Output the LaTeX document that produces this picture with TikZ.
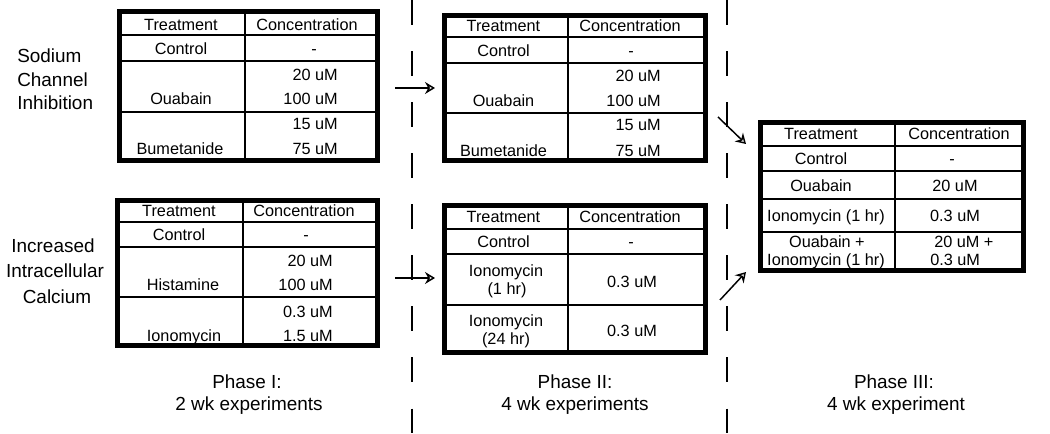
\documentclass[tikz,border=0pt]{standalone}
\usepackage{fontspec}
\setmainfont{Liberation Sans}
\usetikzlibrary{arrows.meta}

\tikzset{
  tblframe/.style={line width=3.6pt},
  rowline/.style={line width=1.5pt},
  colline/.style={line width=2.2pt},
  cell/.style={font=\fontsize{12.2}{13.5}\selectfont, inner sep=0pt, anchor=base},
  val/.style={cell, anchor=base east},
  side/.style={font=\fontsize{14.2}{17}\selectfont, inner sep=0pt, anchor=base},
  phaseline/.style={line width=1.4pt, dash pattern=on 18.5pt off 19.8pt},
  step arrow/.style={line width=1.1pt, -{Stealth[open, length=7.5pt, width=9pt, inset=2.5pt]}}
}

\begin{document}
\begin{tikzpicture}[x=0.75pt, y=-0.75pt]
      \useasboundingbox (0,0) rectangle (1050,434);

      % phase separators
      \foreach \x in {412,727}
      \draw[phaseline] (\x,0) -- (\x,434);

      % row labels
      \node[side, anchor=base west] (sod1) at (17,63) {Sodium};
      \node[side, anchor=base west] (sod2) at (17,87) {Channel};
      \node[side, anchor=base west] (sod3) at (17,110) {Inhibition};
      \node[side] (cal1) at (53,253) {Increased};
      \node[side] (cal2) at (55,278) {Intracellular};
      \node[side] (cal3) at (57,304) {Calcium};

      % phase I, sodium
      \foreach \y in {35,61,112}
      \draw[rowline] (119.5,\y) -- (377.5,\y);
      \draw[colline] (245,11.5) -- (245,160.5);
      \draw[tblframe] (119.5,11.5) rectangle (377.5,160.5);
      \node[cell] (atrt) at (181,31) {Treatment};
      \node[cell] (aconc) at (307,31) {Concentration};
      \node[cell] (actl) at (181,55) {Control};
      \node[cell] (actlv) at (314,55) {-};
      \node[cell] (aoua) at (181,105) {Ouabain};
      \node[val] (aouaA) at (338,81) {20 uM};
      \node[val] (aouaB) at (338,105) {100 uM};
      \node[cell] (abum) at (180,155) {Bumetanide};
      \node[val] (abumA) at (338,130) {15 uM};
      \node[val] (abumB) at (338,155) {75 uM};

      % phase I, calcium
      \foreach \y in {222,247,297}
      \draw[rowline] (117.5,\y) -- (377.5,\y);
      \draw[colline] (243,200.5) -- (243,345.5);
      \draw[tblframe] (117.5,200.5) rectangle (377.5,345.5);
      \node[cell] (btrt) at (179,217) {Treatment};
      \node[cell] (bconc) at (304,217) {Concentration};
      \node[cell] (bctl) at (179,241) {Control};
      \node[cell] (bctlv) at (306,241) {-};
      \node[cell] (bhis) at (183,291) {Histamine};
      \node[val] (bhisA) at (333,267) {20 uM};
      \node[val] (bhisB) at (333,291) {100 uM};
      \node[cell] (bion) at (184,342) {Ionomycin};
      \node[val] (bionA) at (333,318) {0.3 uM};
      \node[val] (bionB) at (333,342) {1.5 uM};

      % phase II, sodium
      \foreach \y in {37,63,113}
      \draw[rowline] (444.5,\y) -- (705.5,\y);
      \draw[colline] (568,15.5) -- (568,160.5);
      \draw[tblframe] (444.5,15.5) rectangle (705.5,160.5);
      \node[cell] (ctrt) at (503.5,32) {Treatment};
      \node[cell] (cconc) at (630,32) {Concentration};
      \node[cell] (cctl) at (503.5,57) {Control};
      \node[cell] (cctlv) at (631,57) {-};
      \node[cell] (coua) at (503.5,107) {Ouabain};
      \node[val] (couaA) at (661,82) {20 uM};
      \node[val] (couaB) at (661,107) {100 uM};
      \node[cell] (cbum) at (503.5,157) {Bumetanide};
      \node[val] (cbumA) at (661,131) {15 uM};
      \node[val] (cbumB) at (661,157) {75 uM};

      % phase II, calcium
      \foreach \y in {229,254,305}
      \draw[rowline] (444.5,\y) -- (705.5,\y);
      \draw[colline] (568,205.5) -- (568,352.5);
      \draw[tblframe] (444.5,205.5) rectangle (705.5,352.5);
      \node[cell] (dtrt) at (503.5,223) {Treatment};
      \node[cell] (dconc) at (630,223) {Concentration};
      \node[cell] (dctl) at (503.5,248) {Control};
      \node[cell] (dctlv) at (631,248) {-};
      \node[cell] (dionA) at (506,277) {Ionomycin};
      \node[cell] (dionAt) at (507,295) {(1 hr)};
      \node[cell] (dionAv) at (632,288) {0.3 uM};
      \node[cell] (dionB) at (506,327) {Ionomycin};
      \node[cell] (dionBt) at (506,345) {(24 hr)};
      \node[cell] (dionBv) at (632,337) {0.3 uM};

      % phase III
      \foreach \y in {146,171,199,232}
      \draw[rowline] (760.5,\y) -- (1023.5,\y);
      \draw[colline] (895,122.5) -- (895,270.5);
      \draw[tblframe] (760.5,122.5) rectangle (1023.5,270.5);
      \node[cell] (etrt) at (821,140) {Treatment};
      \node[cell] (econc) at (959,140) {Concentration};
      \node[cell] (ectl) at (821,165) {Control};
      \node[cell] (ectlv) at (952,165) {-};
      \node[cell] (eoua) at (821,192) {Ouabain};
      \node[cell] (eouav) at (955,192) {20 uM};
      \node[cell] (eion) at (826,222) {Ionomycin (1 hr)};
      \node[cell] (eionv) at (955,222) {0.3 uM};
      \node[cell] (eboth) at (827,248) {Ouabain +};
      \node[cell] (ebothB) at (826,266) {Ionomycin (1 hr)};
      \node[cell, anchor=base west] (ebothv) at (934,248) {20 uM +};
      \node[cell, anchor=base west] (ebothvB) at (930,266) {0.3 uM};

      % arrows between phases
      \coordinate (p1) at (395,88);
      \coordinate (q1) at (435,88);
      \coordinate (p2) at (395,278);
      \coordinate (q2) at (435,278);
      \coordinate (p3) at (718,117);
      \coordinate (q3) at (746,144);
      \coordinate (p4) at (720,300);
      \coordinate (q4) at (746,272);
      \draw[step arrow] (p1) -- (q1);
      \draw[step arrow] (p2) -- (q2);
      \draw[step arrow] (p3) -- (q3);
      \draw[step arrow] (p4) -- (q4);

      % phase captions
      \node[side] (ph1) at (247,389) {Phase I:};
      \node[side] (ph1b) at (249,411) {2 wk experiments};
      \node[side] (ph2) at (575,389) {Phase II:};
      \node[side] (ph2b) at (575,411) {4 wk experiments};
      \node[side] (ph3) at (894,389) {Phase III:};
      \node[side] (ph3b) at (896,411) {4 wk experiment};
    \end{tikzpicture}
\end{document}
